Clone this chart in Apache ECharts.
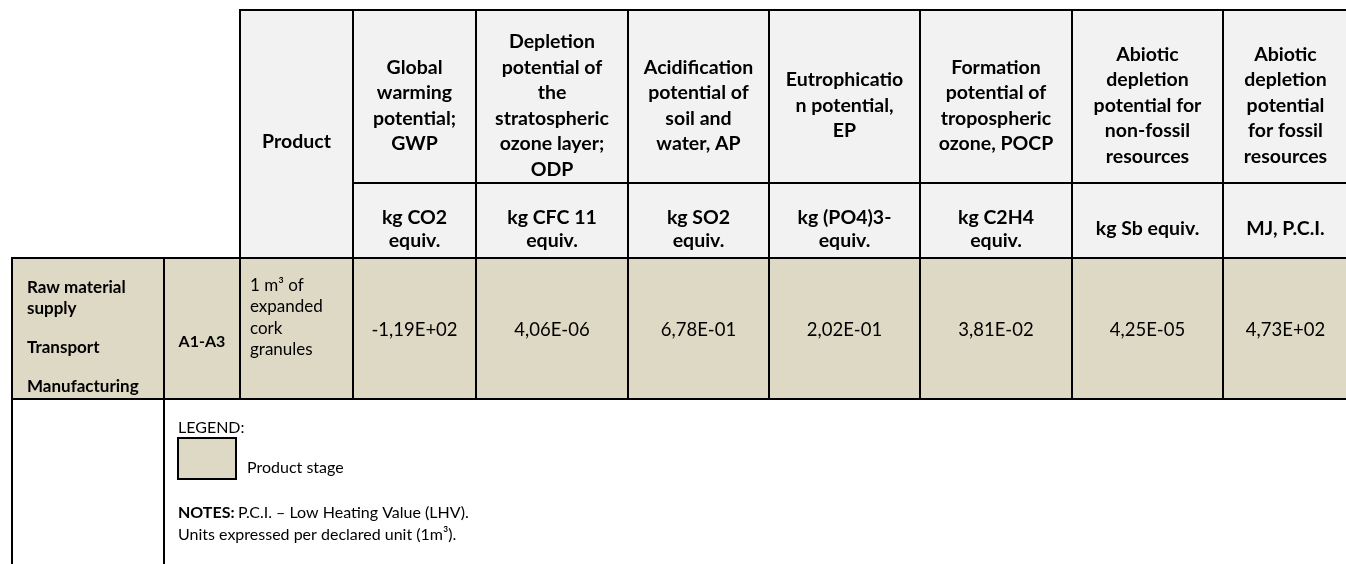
<!DOCTYPE html>
<html>
<head>
<meta charset="utf-8">
<script src="https://cdn.jsdelivr.net/npm/echarts@6/dist/echarts.min.js"></script>
<style>
  html, body { margin: 0; padding: 0; background: #fff; }
  #main { width: 1346px; height: 564px; }
</style>
</head>
<body>
<div id="main"></div>
<script>
// table contents
const indicators = [
  'Global\nwarming\npotential;\nGWP',
  'Depletion\npotential of\nthe\nstratospheric\nozone layer;\nODP',
  'Acidification\npotential of\nsoil and\nwater, AP',
  'Eutrophicatio\nn potential,\nEP',
  'Formation\npotential of\ntropospheric\nozone, POCP',
  'Abiotic\ndepletion\npotential for\nnon-fossil\nresources',
  'Abiotic\ndepletion\npotential\nfor fossil\nresources'
]
const units = ['kg CO2\nequiv.', 'kg CFC 11\nequiv.', 'kg SO2\nequiv.', 'kg (PO4)3-\nequiv.', 'kg C2H4\nequiv.', 'kg Sb equiv.', 'MJ, P.C.I.']
const values = [-1.19e2, 4.06e-6, 6.78e-1, 2.02e-1, 3.81e-2, 4.25e-5, 4.73e2]
const stages = ['Raw material\nsupply', 'Transport', 'Manufacturing']
const moduleName = 'A1-A3'
const productName = '1 m³ of\nexpanded\ncork\ngranules'
const legendItems = ['Product stage']

// layout (page pixels)
const colEdges = [12, 164, 240, 353, 476, 628, 769, 920, 1072, 1223, 1348]
const rowEdges = [10, 183, 258, 399, 572]
const FONT = 'Lato, "Open Sans", sans-serif'
const HEAD = '#f2f2f2'
const STAGE = '#ddd9c4'

// -1,19E+02 style
function sci(v) {
  let [m, e] = v.toExponential(2).split('e')
  let sign = e[0] === '-' ? '-' : '+'
  e = e.replace(/[+-]/, '')
  if (e.length < 2) e = '0' + e
  return m.replace('.', ',') + 'E' + sign + e
}

const cells = []
function cell(c0, c1, r0, r1, fill, text, opt) {
  cells.push(Object.assign({ x0: colEdges[c0], x1: colEdges[c1], y0: rowEdges[r0], y1: rowEdges[r1], fill, text }, opt || {}))
}

cell(2, 3, 0, 2, HEAD, 'Product', { bold: true, size: 19.5, dy: 8 })
indicators.forEach((t, i) => cell(3 + i, 4 + i, 0, 1, HEAD, t, { bold: true, size: 19.5, lh: 25.5, dy: 9 }))
units.forEach((t, i) => cell(3 + i, 4 + i, 1, 2, HEAD, t, { bold: true, size: 19.5, lh: 23, dy: 8.5 }))
cell(0, 1, 2, 3, STAGE, '', { stage: true })
cell(1, 2, 2, 3, STAGE, moduleName, { bold: true, size: 16, dy: 13 })
cell(2, 3, 2, 3, STAGE, productName, { left: 10, lh: 21.5, size: 17, dy: -11 })
values.forEach((v, i) => cell(3 + i, 4 + i, 2, 3, STAGE, sci(v), { size: 18.5, dy: 1.5 }))
cell(0, 1, 3, 4, '#fff', '')
cell(1, 10, 3, 4, '#fff', '', { legend: true })

function renderItem(params, api) {
  const c = cells[api.value(0)]
  const p0 = api.coord([c.x0, c.y0])
  const p1 = api.coord([c.x1, c.y1])
  const children = [{
    type: 'rect',
    shape: { x: p0[0], y: p0[1], width: p1[0] - p0[0], height: p1[1] - p0[1] },
    style: { fill: c.fill, stroke: '#000', lineWidth: 2 }
  }]
  if (c.text) {
    children.push({
      type: 'text',
      x: c.left ? p0[0] + c.left : (p0[0] + p1[0]) / 2,
      y: (p0[1] + p1[1]) / 2 + (c.dy || 0),
      style: {
        text: c.text,
        fill: '#000',
        align: c.left ? 'left' : 'center',
        verticalAlign: 'middle',
        fontFamily: FONT,
        fontSize: c.size || 18,
        fontWeight: c.bold ? 'bold' : 'normal',
        lineHeight: c.lh || 22
      }
    })
  }
  if (c.stage) {
    children.push({
      type: 'text',
      x: p0[0] + 15,
      y: p0[1] + 18.5,
      style: {
        text: stages.map(s => s.split('\n').map(l => '{a|' + l + '}').join('\n')).join('\n{g|}\n'),
        fill: '#000',
        align: 'left',
        verticalAlign: 'top',
        rich: {
          a: { fontFamily: FONT, fontSize: 17, fontWeight: 'bold', lineHeight: 21.5, fill: '#000' },
          g: { fontSize: 10, lineHeight: 17.5 }
        }
      }
    })
  }
  if (c.legend) {
    const lx = p0[0] + 14
    children.push({
      type: 'text', x: lx, y: p0[1] + 29,
      style: { text: 'LEGEND:', fill: '#000', fontFamily: FONT, fontSize: 16, verticalAlign: 'middle' }
    })
    children.push({
      type: 'rect', shape: { x: lx, y: p0[1] + 39, width: 58, height: 41 },
      style: { fill: STAGE, stroke: '#000', lineWidth: 2 }
    })
    children.push({
      type: 'text', x: lx + 69, y: p0[1] + 69,
      style: { text: legendItems[0], fill: '#000', fontFamily: FONT, fontSize: 16, verticalAlign: 'middle' }
    })
    children.push({
      type: 'text', x: lx, y: p0[1] + 103,
      style: {
        text: '{b|NOTES:} {r|P.C.I. – Low Heating Value (LHV).}\n{r|Units expressed per declared unit (1m³).}',
        verticalAlign: 'top',
        rich: {
          b: { fontFamily: FONT, fontSize: 16, fontWeight: 'bold', lineHeight: 22, fill: '#000' },
          r: { fontFamily: FONT, fontSize: 16, lineHeight: 22, fill: '#000' }
        }
      }
    })
  }
  return { type: 'group', children }
}

const chart = echarts.init(document.getElementById('main'))
chart.setOption({
  animation: false,
  grid: { left: 0, right: 0, top: 0, bottom: 0 },
  xAxis: { type: 'value', min: 0, max: 1346, show: false },
  yAxis: { type: 'value', min: 0, max: 564, inverse: true, show: false },
  series: [{
    type: 'custom',
    renderItem,
    clip: false,
    data: cells.map((c, i) => [i, 0])
  }]
})
window.addEventListener('resize', () => chart.resize())
</script>
</body>
</html>
